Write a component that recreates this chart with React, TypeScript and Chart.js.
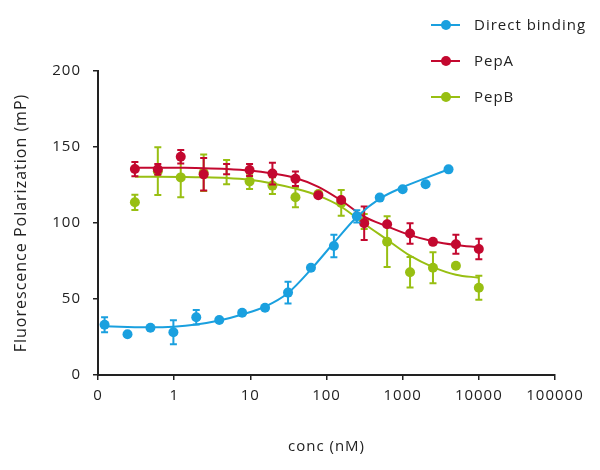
import React, { useEffect, useRef } from 'react';
import { Chart, registerables } from 'chart.js';

Chart.register(...registerables);

// ---- Data ----
const seriesNames = ['Direct binding', 'PepA', 'PepB'];

// Direct binding: two-fold dilution series from 4000 nM
const concDirect = [0.122, 0.244, 0.488, 0.977, 1.95, 3.91, 7.81, 15.6, 31.25, 62.5, 125, 250, 500, 1000, 2000, 4000];
const directFP = [33.1, 26.8, 31.1, 28.1, 38.0, 36.2, 41.0, 44.3, 54.2, 70.6, 84.9, 104.4, 116.7, 122.2, 125.5, 135.3];
const directErr = [4.9, 0, 0, 7.9, 4.8, 0, 0, 0, 7.2, 0, 7.4, 4.0, 0, 0, 0, 0];
const directFit = [32.0, 31.6, 31.4, 31.8, 33.2, 35.8, 39.8, 45.0, 54.0, 69.5, 87.0, 104.0, 116.0, 123.5, 129.5, 135.3];

// Competition: two-fold dilution series from 10000 nM
const concPep = [0.305, 0.61, 1.22, 2.44, 4.88, 9.77, 19.5, 39.1, 78.1, 156, 312.5, 625, 1250, 2500, 5000, 10000];
const pepAFP = [135.5, 135.3, 143.6, 132.0, 135.4, 134.9, 132.5, 129.1, 118.3, 115.1, 99.8, 99.2, 93.1, 87.6, 86.0, 82.9];
const pepAErr = [4.7, 3.5, 4.4, 10.7, 3.4, 3.9, 7.2, 4.8, 0, 0, 11.0, 0, 6.8, 0, 6.3, 6.8];
const pepAFit = [136.4, 136.4, 136.3, 136.1, 135.6, 134.6, 132.6, 129.6, 123.8, 114.8, 104.2, 97.8, 92.0, 88.0, 85.5, 84.0];

const pepBFP = [113.6, 134.1, 130.0, 133.0, 133.5, 127.4, 124.6, 116.9, 119.0, 113.2, 101.0, 87.7, 67.6, 70.6, 71.9, 57.4];
const pepBErr = [5.0, 15.7, 13.1, 12.0, 8.0, 5.0, 5.5, 6.6, 0, 8.5, 5.0, 16.7, 10.0, 10.2, 0, 7.9];
const pepBFit = [130.4, 130.4, 130.3, 130.1, 129.6, 128.4, 126.0, 122.6, 118.0, 110.7, 99.5, 89.0, 78.5, 71.0, 66.0, 64.0];

// concentrations shown with an error bar but without a marker
const pepNoMarker = [4.88];

const xTickValues = [0.1, 1, 10, 100, 1000, 10000, 100000];
const xTickLabels = ['0', '1', '10', '100', '1000', '10000', '100000'];

// ---- Styles ----
const BLUE = '#1aa0df';
const RED = '#c3082f';
const GREEN = '#98bf12';
const TEXT = '#222222';
const FONT = "'Open Sans', 'Noto Sans', sans-serif";
const SPACING = '1px';

const spacingPlugin = {
  id: 'letterSpacing',
  beforeLayout(chart: any) {
    chart.ctx.letterSpacing = SPACING;
  },
  beforeDraw(chart: any) {
    chart.ctx.letterSpacing = SPACING;
  },
};

const errorBarPlugin = {
  id: 'errorBars',
  beforeDatasetDraw(chart: any, args: any) {
    const ds = chart.data.datasets[args.index];
    if (!ds.errors) return;
    const { ctx, scales } = chart;
    const xs = scales.x;
    const ys = scales.y;
    ctx.save();
    ctx.strokeStyle = ds.borderColor;
    ctx.lineWidth = 2;
    const cap = 3.5;
    ds.data.forEach((p: any, i: number) => {
      const e = ds.errors[i];
      if (!e) return;
      const px = xs.getPixelForValue(p.x);
      const top = ys.getPixelForValue(p.y + e);
      const bot = ys.getPixelForValue(p.y - e);
      ctx.beginPath();
      ctx.moveTo(px, top);
      ctx.lineTo(px, bot);
      ctx.moveTo(px - cap, top);
      ctx.lineTo(px + cap, top);
      ctx.moveTo(px - cap, bot);
      ctx.lineTo(px + cap, bot);
      ctx.stroke();
    });
    ctx.restore();
  },
};

const legendPlugin = {
  id: 'customLegend',
  afterDraw(chart: any) {
    const ctx = chart.ctx;
    const items = chart.data.datasets.filter((d: any) => d.legendItem);
    ctx.save();
    ctx.letterSpacing = SPACING;
    items.forEach((ds: any, k: number) => {
      const y = 25 + k * 36;
      ctx.strokeStyle = ds.borderColor;
      ctx.lineWidth = 2;
      ctx.beginPath();
      ctx.moveTo(431, y);
      ctx.lineTo(460, y);
      ctx.stroke();
      ctx.fillStyle = ds.backgroundColor;
      ctx.beginPath();
      ctx.arc(446, y, 5, 0, Math.PI * 2);
      ctx.fill();
      ctx.fillStyle = TEXT;
      ctx.font = `15px ${FONT}`;
      ctx.textAlign = 'left';
      ctx.textBaseline = 'middle';
      ctx.fillText(ds.label, 474, y + 1);
    });
    ctx.restore();
  },
};

function pointsDataset(label: string, xs: number[], ys: number[], errs: number[], color: string, order: number, noMarker: number[]) {
  return {
    type: 'scatter' as const,
    label,
    legendItem: true,
    data: xs.map((x, i) => ({ x, y: ys[i] })),
    errors: errs,
    showLine: false,
    borderColor: color,
    backgroundColor: color,
    pointRadius: (c: any) => (noMarker.includes(xs[c.dataIndex]) ? 0 : 5),
    pointBorderWidth: 0,
    order,
  };
}

function curveDataset(label: string, xs: number[], ys: number[], color: string, order: number) {
  return {
    type: 'line' as const,
    label,
    data: xs.map((x, i) => ({ x, y: ys[i] })),
    borderColor: color,
    backgroundColor: color,
    borderWidth: 2,
    pointRadius: 0,
    cubicInterpolationMode: 'monotone' as const,
    fill: false,
    order,
  };
}

export default function App() {
  const canvasRef = useRef<HTMLCanvasElement | null>(null);

  useEffect(() => {
    if (!canvasRef.current) return;
    const chart = new Chart(canvasRef.current, {
      type: 'scatter',
      data: {
        datasets: [
          pointsDataset(seriesNames[0], concDirect, directFP, directErr, BLUE, 0, []),
          curveDataset(seriesNames[0] + ' fit', concDirect, directFit, BLUE, 1),
          pointsDataset(seriesNames[1], concPep, pepAFP, pepAErr, RED, 2, pepNoMarker),
          curveDataset(seriesNames[1] + ' fit', concPep, pepAFit, RED, 3),
          pointsDataset(seriesNames[2], concPep, pepBFP, pepBErr, GREEN, 4, pepNoMarker),
          curveDataset(seriesNames[2] + ' fit', concPep, pepBFit, GREEN, 5),
        ] as any,
      },
      options: {
        animation: false,
        responsive: false,
        events: [],
        layout: { padding: { top: 71, right: 45, left: 0, bottom: 0 } },
        plugins: {
          legend: { display: false },
          tooltip: { enabled: false },
        },
        font: { family: FONT },
        scales: {
          x: {
            type: 'logarithmic',
            min: 0.1,
            max: 100000,
            afterBuildTicks: (s: any) => {
              s.ticks = xTickValues.map((v) => ({ value: v }));
            },
            afterFit: (s: any) => {
              s.height = 95;
            },
            ticks: {
              autoSkip: false,
              maxRotation: 0,
              padding: 7,
              color: TEXT,
              font: { family: FONT, size: 15 },
              callback: (_v: any, i: number) => xTickLabels[i],
            },
            grid: { drawOnChartArea: false, drawTicks: true, tickLength: 5, color: TEXT, lineWidth: 1.5 },
            border: { display: true, color: TEXT, width: 2 },
            title: {
              display: true,
              text: 'conc (nM)',
              color: TEXT,
              font: { family: FONT, size: 15 },
              padding: { top: 0, bottom: 14 },
            },
          },
          y: {
            type: 'linear',
            min: 0,
            max: 200,
            afterFit: (s: any) => {
              s.width = 98;
            },
            ticks: {
              stepSize: 50,
              padding: 12,
              color: TEXT,
              font: { family: FONT, size: 15 },
            },
            grid: { drawOnChartArea: false, drawTicks: true, tickLength: 5, color: TEXT, lineWidth: 1.5 },
            border: { display: true, color: TEXT, width: 2 },
            title: {
              display: true,
              text: 'Fluorescence Polarization (mP)',
              color: TEXT,
              font: { family: FONT, size: 16 },
              padding: { top: 12, bottom: 0 },
            },
          },
        },
      } as any,
      plugins: [spacingPlugin, errorBarPlugin, legendPlugin],
    });
    return () => chart.destroy();
  }, []);

  return (
    <div style={{ position: 'fixed', left: 0, top: 0, width: 600, height: 470, background: '#fff' }}>
      <canvas ref={canvasRef} width={600} height={470} style={{ display: 'block' }} />
    </div>
  );
}
